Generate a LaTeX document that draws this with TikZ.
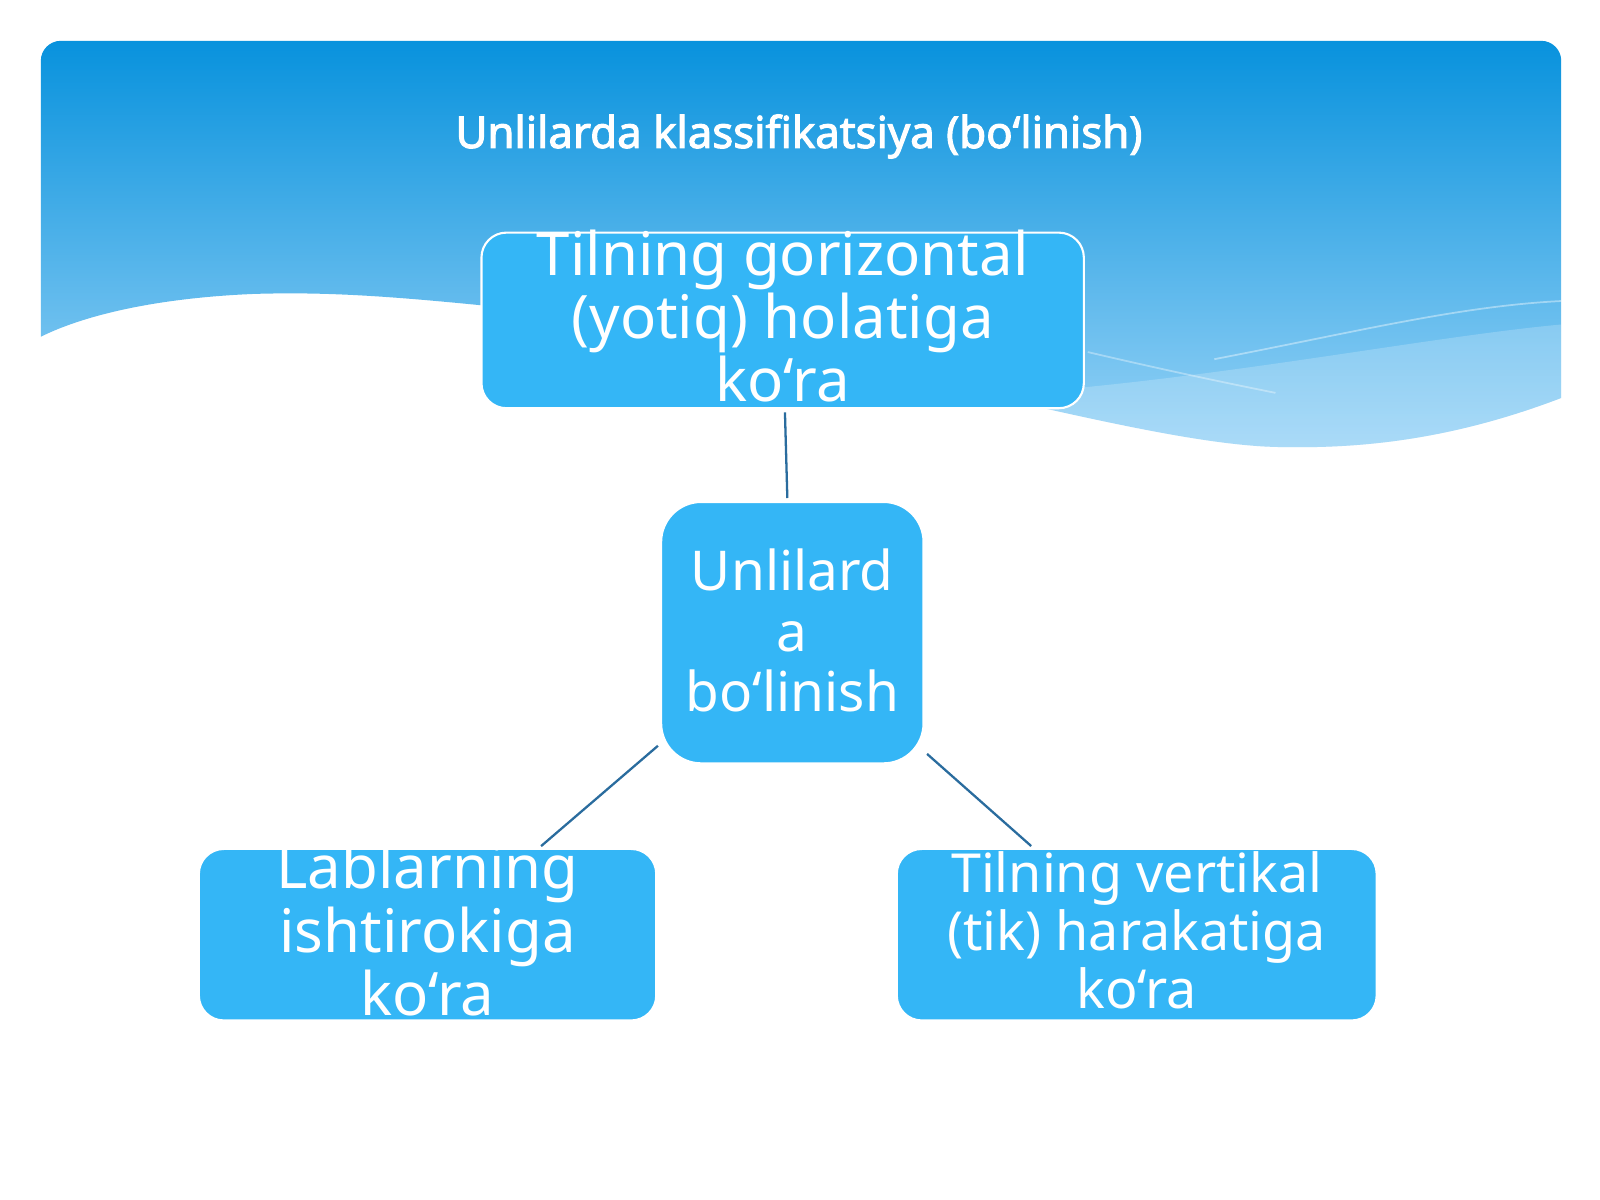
\documentclass[tikz,border=0pt]{standalone}
\usepackage{fontspec}
\setmainfont{Noto Sans}
\newfontfamily\titlefont[FakeBold=2.4]{Noto Sans}
\usetikzlibrary{calc}
\definecolor{boxblue}{RGB}{52,182,246}
\definecolor{topblue}{RGB}{8,146,221}
\definecolor{lowblue}{RGB}{150,210,246}
\definecolor{linkcol}{RGB}{42,108,158}
\tikzset{
  px/.style={x=0.01cm,y=-0.01cm},
  boxshape/.style={draw=white,line width=0.6pt,fill=boxblue,inner sep=0pt},
  boxtext/.style={text=white,align=center,inner sep=0pt},
  link/.style={draw=linkcol,line width=0.65pt,shorten <=0.03cm,shorten >=0.03cm}
}
\begin{document}
\begin{tikzpicture}[px,scale=1.020408,transform shape]
\useasboundingbox (0,0) rectangle (1568,1176);
\fill[white] (0,0) rectangle (1568,1176);
% header with wave
\path[top color=topblue,bottom color=lowblue]
  (40,330) [rounded corners=0.2cm] -- (40,40) -- (1530,40) [sharp corners] -- (1530,390)
  .. controls (1420,432) and (1330,440) .. (1250,438)
  .. controls (1100,434) and (800,330) .. (480,300)
  .. controls (380,290) and (320,286) .. (250,288)
  .. controls (150,292) and (80,310) .. (40,330) -- cycle;
% lighter band on the right
\fill[white,opacity=0.2]
  (1000,385) .. controls (1200,370) and (1400,330) .. (1530,318) -- (1530,390)
  .. controls (1420,432) and (1330,440) .. (1250,438)
  .. controls (1150,436) and (1080,420) .. (1000,400) -- cycle;
\draw[white,opacity=0.4,line width=0.5pt] (1190,352) .. controls (1330,325) and (1430,300) .. (1530,295);
\draw[white,opacity=0.35,line width=0.5pt] (1066,345) .. controls (1130,360) and (1190,373) .. (1250,385);
% title
\node[text=white,anchor=base,font=\fontsize{12.2}{13.5}\titlefont] (title) at (783,145) {Unlilarda klassifikatsiya (bo‘linish)};
% boxes
\node[boxshape,rounded corners=0.25cm,minimum width=5.9cm,minimum height=1.72cm] (top) at (767,314) {};
\node[boxshape,rounded corners=0.4cm,minimum width=2.57cm,minimum height=2.56cm] (mid) at (776.5,620) {};
\node[boxshape,rounded corners=0.25cm,minimum width=4.48cm,minimum height=1.68cm] (bl) at (419,916) {};
\node[boxshape,rounded corners=0.25cm,minimum width=4.70cm,minimum height=1.68cm] (br) at (1114,916) {};
% texts
\node[boxtext,font=\fontsize{16.7}{17.6}\selectfont] (toptext) at (767,310) {Tilning gorizontal\\(yotiq) holatiga\\ko‘ra};
\node[boxtext,font=\fontsize{15.3}{16.8}\selectfont] (midtext) at (776.5,618) {Unlilard\\a\\bo‘linish};
\node[boxtext,font=\fontsize{16.7}{17.6}\selectfont] (bltext) at (419,911) {Lablarning\\ishtirokiga\\ko‘ra};
\node[boxtext,font=\fontsize{15}{16.2}\selectfont] (brtext) at (1114,912) {Tilning vertikal\\(tik) harakatiga\\ko‘ra};
% connectors
\draw[link] ($(top.south)+(2,0)$) -- ($(mid.north)+(-5,0)$);
\draw[link] (mid.220) -- (bl.38);
\draw[link] (mid.318) -- (br.140);
\end{tikzpicture}
\end{document}
